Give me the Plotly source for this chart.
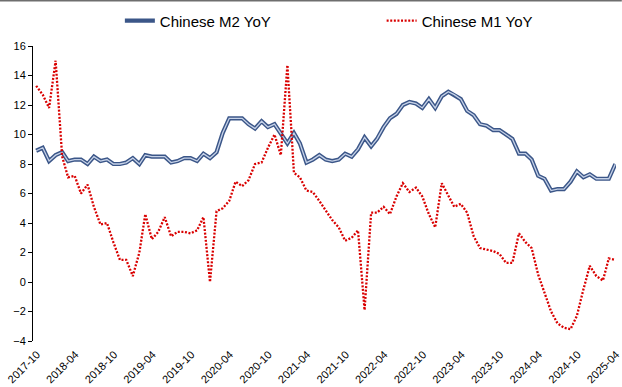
import pandas as pd
import plotly.graph_objects as go

# Monthly observations, 2017-10 through 2025-04
start_month = "2017-10"
end_month = "2025-04"

m2_yoy = [
    8.9, 9.1, 8.2,
    8.6, 8.8, 8.2, 8.3, 8.3, 8.0, 8.5, 8.2, 8.3, 8.0, 8.0, 8.1,
    8.4, 8.0, 8.6, 8.5, 8.5, 8.5, 8.1, 8.2, 8.4, 8.4, 8.2, 8.7,
    8.4, 8.8, 10.1, 11.1, 11.1, 11.1, 10.7, 10.4, 10.9, 10.5, 10.7, 10.1,
    9.4, 10.1, 9.4, 8.1, 8.3, 8.6, 8.3, 8.2, 8.3, 8.7, 8.5, 9.0,
    9.8, 9.2, 9.7, 10.5, 11.1, 11.4, 12.0, 12.2, 12.1, 11.8, 12.4, 11.8,
    12.6, 12.9, 12.7, 12.4, 11.6, 11.3, 10.7, 10.6, 10.3, 10.3, 10.0, 9.7,
    8.7, 8.7, 8.3, 7.2, 7.0, 6.2, 6.3, 6.3, 6.8, 7.5, 7.1, 7.3,
    7.0, 7.0, 7.0, 8.0,
]

m1_yoy = [
    13.3, 12.7, 11.8,
    15.0, 8.5, 7.1, 7.2, 6.0, 6.6, 5.1, 3.9, 4.0, 2.7, 1.5, 1.5,
    0.4, 2.0, 4.6, 2.9, 3.4, 4.4, 3.1, 3.4, 3.4, 3.3, 3.5, 4.4,
    0.0, 4.8, 5.0, 5.5, 6.8, 6.5, 6.9, 8.0, 8.1, 9.1, 10.0, 8.6,
    14.7, 7.4, 7.1, 6.2, 6.1, 5.5, 4.9, 4.2, 3.7, 2.8, 3.0, 3.5,
    -1.9, 4.7, 4.7, 5.1, 4.6, 5.8, 6.7, 6.1, 6.4, 5.8, 4.6, 3.7,
    6.7, 5.8, 5.1, 5.3, 4.7, 3.1, 2.3, 2.2, 2.1, 1.9, 1.3, 1.3,
    3.3, 2.7, 2.3, 0.5, -0.8, -2.0, -2.8, -3.1, -3.2, -2.3, -0.5, 1.1,
    0.4, 0.1, 1.6, 1.5,
]

x_tick_labels = [
    "2017-10", "2018-04", "2018-10", "2019-04", "2019-10", "2020-04",
    "2020-10", "2021-04", "2021-10", "2022-04", "2022-10", "2023-04",
    "2023-10", "2024-04", "2024-10", "2025-04",
]
y_ticks = [-4, -2, 0, 2, 4, 6, 8, 10, 12, 14, 16]

# each monthly value sits in the middle of its month
months = pd.period_range(start_month, end_month, freq="M")
dates = [p.to_timestamp() + pd.Timedelta(days=15) for p in months]
x_tick_vals = [pd.Period(t, freq="M").to_timestamp() for t in x_tick_labels]

x_range = ["2017-10-01", "2025-04-19"]
font_family = "Liberation Sans, Arial, sans-serif"

fig = go.Figure()

# M2: navy double line (dark outer stroke + light inner stroke)
fig.add_trace(go.Scatter(
    x=dates, y=m2_yoy, mode="lines", name="Chinese M2 YoY", legend="legend",
    line=dict(color="#3b5688", width=4.2),
))
fig.add_trace(go.Scatter(
    x=dates, y=m2_yoy, mode="lines", showlegend=False, hoverinfo="skip",
    line=dict(color="#c6d2e8", width=1.3),
))
# M1: red dotted line
fig.add_trace(go.Scatter(
    x=dates, y=m1_yoy, mode="lines", name="Chinese M1 YoY", legend="legend2",
    line=dict(color="#d90000", width=2.3, dash="2px,1.6px"),
))

legend_common = dict(
    orientation="h", xanchor="left", y=1.085, yanchor="middle",
    font=dict(size=15, color="#000000"), bgcolor="rgba(0,0,0,0)",
)

fig.update_layout(
    width=622, height=387,
    margin=dict(l=33, r=1, t=46, b=46),
    paper_bgcolor="white", plot_bgcolor="white",
    font=dict(family=font_family, size=11, color="#000000"),
    showlegend=True,
    legend=dict(x=0.149, **legend_common),
    legend2=dict(x=0.598, **legend_common),
    xaxis=dict(
        type="date", range=x_range, showline=False, showgrid=False,
        zeroline=False, ticks="", tickvals=x_tick_vals,
        ticktext=x_tick_labels, tickangle=-45, tickfont=dict(size=11),
        ticklabeloverflow="allow", ticklabelstandoff=4, ticklabelshift=4,
    ),
    # horizontal axis line drawn through y = 0
    xaxis2=dict(
        type="date", range=x_range, overlaying="x", anchor="free",
        position=4 / 20, showline=True, linecolor="#404040", linewidth=1.5,
        ticks="outside", ticklen=4, tickcolor="#606060", tickwidth=1,
        tickvals=x_tick_vals, showticklabels=False,
        showgrid=False, zeroline=False,
    ),
    yaxis=dict(
        range=[-4, 16], tickvals=y_ticks, showline=True, linecolor="#000000",
        linewidth=1, ticks="outside", ticklen=4, tickcolor="#000000",
        showgrid=False, zeroline=False, tickfont=dict(size=11),
    ),
    shapes=[dict(
        type="line", xref="paper", yref="paper", x0=-0.06, x1=1.01,
        y0=1 + 45.5 / 295, y1=1 + 45.5 / 295,
        line=dict(color="#6e6e6e", width=2),
    )],
)

fig.write_html("out.html")
